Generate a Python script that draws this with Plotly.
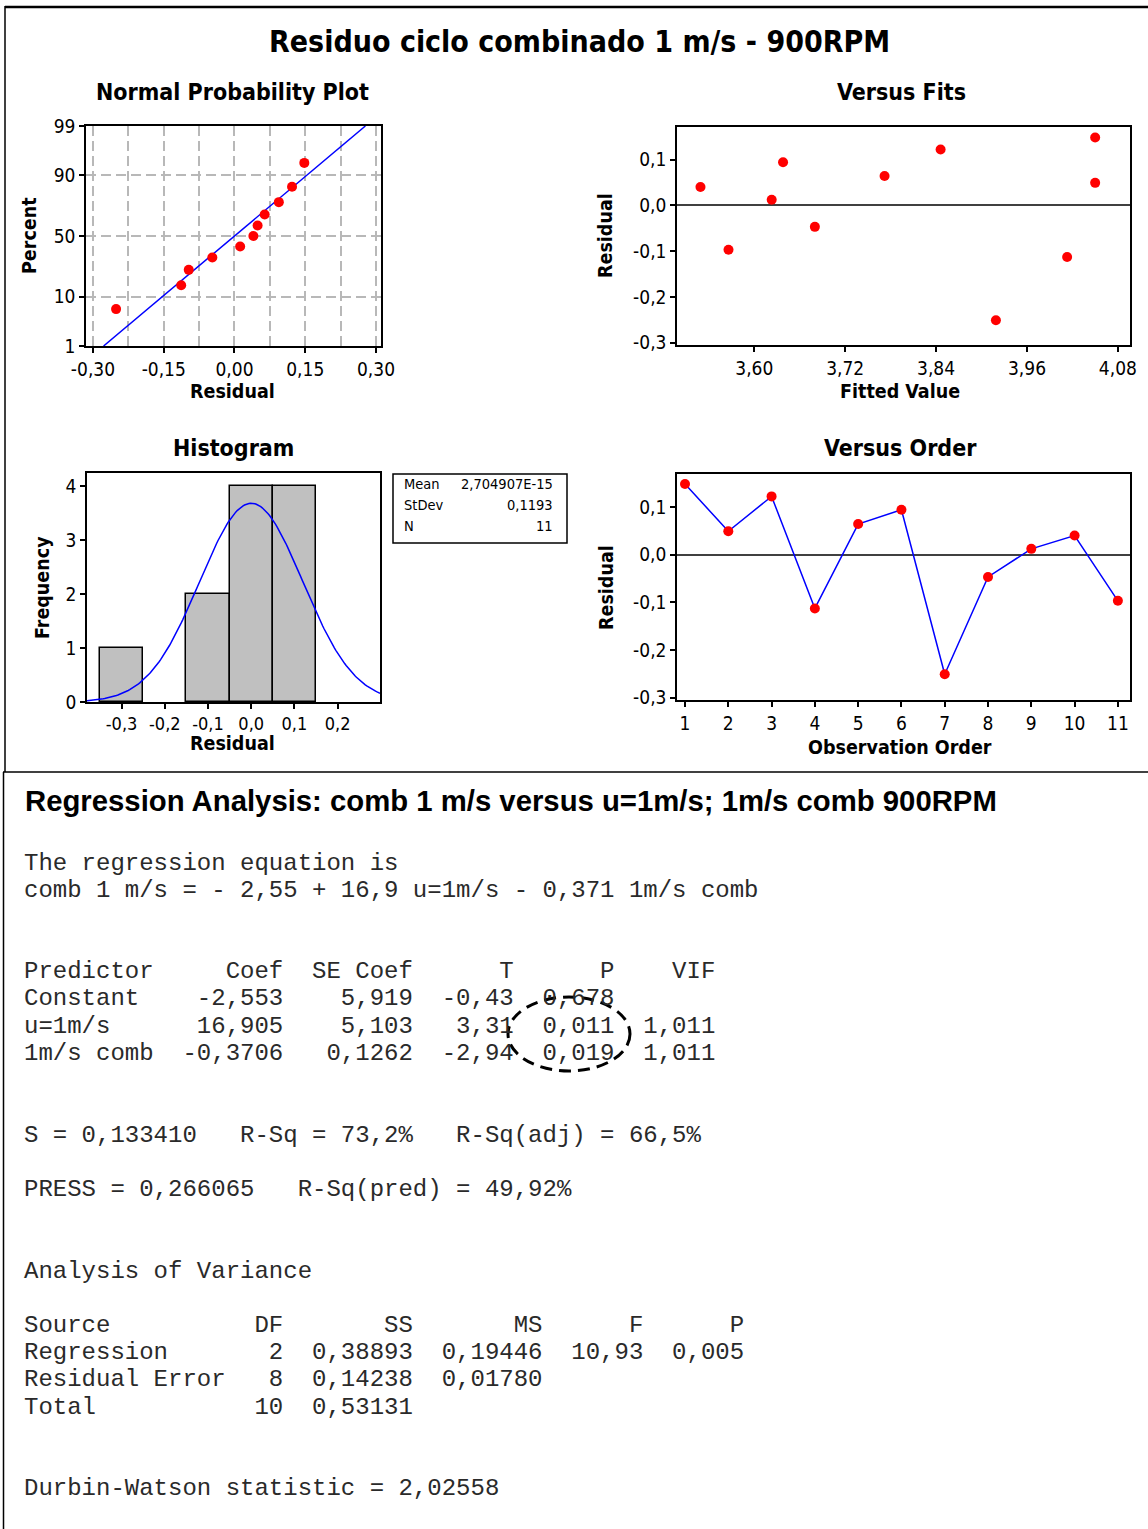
import numpy as np
import plotly.graph_objects as go
from statistics import NormalDist

W, H = 1148, 1529

# ---------------- data ----------------
observation = list(range(1, 12))
residuals = [0.148, 0.049, 0.122, -0.113, 0.064, 0.094, -0.251, -0.047, 0.012, 0.040, -0.097]
fitted = [4.050, 4.050, 3.846, 4.013, 3.772, 3.638, 3.919, 3.680, 3.623, 3.529, 3.566]
npp_percent = [6.1, 14.9, 23.7, 32.5, 41.2, 50.0, 58.8, 67.5, 76.3, 85.1, 93.9]
prob_ticks = [1, 10, 50, 90, 99]
prob_grid = [10, 50, 90]
npp_xticks = [-0.30, -0.15, 0.00, 0.15, 0.30]
npp_xtext = ["-0,30", "-0,15", "0,00", "0,15", "0,30"]
npp_xminor = [-0.225, -0.075, 0.075, 0.225]
fit_xticks = [3.60, 3.72, 3.84, 3.96, 4.08]
fit_xtext = ["3,60", "3,72", "3,84", "3,96", "4,08"]
res_yticks = [-0.3, -0.2, -0.1, 0.0, 0.1]
res_ytext = ["-0,3", "-0,2", "-0,1", "0,0", "0,1"]
hist_xticks = [-0.3, -0.2, -0.1, 0.0, 0.1, 0.2]
hist_xtext = ["-0,3", "-0,2", "-0,1", "0,0", "0,1", "0,2"]
hist_yticks = [0, 1, 2, 3, 4]
stat_mean = 2.704907e-15
stat_stdev = 0.1193
stat_n = 11

text_lines = [
    "The regression equation is",
    "comb 1 m/s = - 2,55 + 16,9 u=1m/s - 0,371 1m/s comb",
    "",
    "",
    "Predictor     Coef  SE Coef      T      P    VIF",
    "Constant    -2,553    5,919  -0,43  0,678",
    "u=1m/s      16,905    5,103   3,31  0,011  1,011",
    "1m/s comb  -0,3706   0,1262  -2,94  0,019  1,011",
    "",
    "",
    "S = 0,133410   R-Sq = 73,2%   R-Sq(adj) = 66,5%",
    "",
    "PRESS = 0,266065   R-Sq(pred) = 49,92%",
    "",
    "",
    "Analysis of Variance",
    "",
    "Source          DF       SS       MS      F      P",
    "Regression       2  0,38893  0,19446  10,93  0,005",
    "Residual Error   8  0,14238  0,01780",
    "Total           10  0,53131",
    "",
    "",
    "Durbin-Watson statistic = 2,02558",
]

# ---------------- helpers ----------------
def px(x):
    return x / W


def py(y):
    return 1 - y / H


F = "DejaVu Sans Condensed, DejaVu Sans, sans-serif"
MONO = "Liberation Mono, Courier New, monospace"
nd = NormalDist()

def z(p):
    return nd.inv_cdf(p / 100.0)

fig = go.Figure()

MK = dict(color="#ff0000", size=10, line=dict(width=0))

# Normal probability plot
npp_x = sorted(residuals)
npp_y = [z(p) for p in npp_percent]
zl, zh = z(1), z(99)
fig.add_trace(go.Scatter(x=[stat_mean + stat_stdev * zl, stat_mean + stat_stdev * zh], y=[zl, zh],
                         mode="lines", line=dict(color="#0000ff", width=1.5),
                         xaxis="x", yaxis="y", hoverinfo="skip"))
fig.add_trace(go.Scatter(x=npp_x, y=npp_y, mode="markers", marker=MK, xaxis="x", yaxis="y"))

# Versus fits
fig.add_trace(go.Scatter(x=fitted, y=residuals, mode="markers", marker=MK, xaxis="x2", yaxis="y2"))

# Histogram
fig.add_trace(go.Histogram(x=residuals, xbins=dict(start=-0.35, end=0.25, size=0.1),
                           marker=dict(color="#c0c0c0", line=dict(color="black", width=1.5)),
                           xaxis="x3", yaxis="y3"))
cx = np.linspace(-0.38, 0.298, 200)
cy = [stat_n * 0.1 * NormalDist(stat_mean, stat_stdev).pdf(v) for v in cx]
fig.add_trace(go.Scatter(x=cx, y=cy, mode="lines", line=dict(color="#0000ff", width=1.5),
                         xaxis="x3", yaxis="y3", hoverinfo="skip"))

# Versus order
fig.add_trace(go.Scatter(x=observation, y=residuals, mode="lines+markers",
                         line=dict(color="#0000ff", width=1.5), marker=MK,
                         xaxis="x4", yaxis="y4"))

base = dict(showline=True, linecolor="black", linewidth=1.5, mirror=True,
            ticks="outside", ticklen=5, tickwidth=1.5, tickcolor="black",
            zeroline=False, showgrid=False, fixedrange=True, automargin=False,
            tickfont=dict(family=F, size=19, color="black"))

GD = "10px,5px"
GC = "#b8b8b8"
grid = dict(showgrid=True, gridcolor=GC, gridwidth=1.5, griddash=GD)

R1 = 1130  # right edge of right-column plots

fig.update_layout(
    template="none",
    width=W, height=H, autosize=False,
    margin=dict(l=0, r=0, t=0, b=0, pad=0, autoexpand=False),
    paper_bgcolor="white", plot_bgcolor="white", showlegend=False, bargap=0,
    xaxis=dict(base, domain=[px(86), px(381)], range=[-0.3148, 0.3106],
               tickmode="array", tickvals=npp_xticks, ticktext=npp_xtext, **grid,
               minor=dict(tickvals=npp_xminor, showgrid=True, gridcolor=GC,
                          gridwidth=1.5, griddash=GD, ticks=""),
               anchor="y"),
    yaxis=dict(base, domain=[py(346), py(126)], range=[zl, zh],
               tickmode="array", tickvals=[z(p) for p in prob_ticks],
               ticktext=[str(p) for p in prob_ticks], anchor="x",
               minor=dict(tickvals=[z(p) for p in prob_grid], showgrid=True, gridcolor=GC,
                          gridwidth=1.5, griddash=GD, ticks="")),
    xaxis2=dict(base, domain=[px(677), px(R1)], range=[3.498, 4.096],
                tickmode="array", tickvals=fit_xticks, ticktext=fit_xtext, anchor="y2"),
    yaxis2=dict(base, domain=[py(345), py(127)], range=[-0.305, 0.171],
                tickmode="array", tickvals=res_yticks, ticktext=res_ytext, anchor="x2",
                zeroline=True, zerolinecolor="#404040", zerolinewidth=1.5),
    xaxis3=dict(base, domain=[px(87), px(380)], range=[-0.38, 0.298],
                tickmode="array", tickvals=hist_xticks, ticktext=hist_xtext, anchor="y3"),
    yaxis3=dict(base, domain=[py(702), py(473)], range=[0, 4.24],
                tickmode="array", tickvals=hist_yticks, anchor="x3"),
    xaxis4=dict(base, domain=[px(677), px(R1)], range=[0.815, 11.28],
                tickmode="array", tickvals=observation, anchor="y4"),
    yaxis4=dict(base, domain=[py(700), py(474)], range=[-0.305, 0.169],
                tickmode="array", tickvals=res_yticks, ticktext=res_ytext, anchor="x4",
                zeroline=True, zerolinecolor="#404040", zerolinewidth=1.5),
)
fig.update_layout(xaxis3=dict(tickfont=dict(size=18)))

ann = []

def label(text, x, y, size, bold=True, angle=0, family=F, anchor="center", color="black"):
    ann.append(dict(text=text, x=px(x), y=py(y), xref="paper", yref="paper",
                    xanchor=anchor, yanchor="middle", showarrow=False, textangle=angle,
                    font=dict(family=family, size=size, color=color,
                              weight="bold" if bold else "normal")))

label("Residuo ciclo combinado 1 m/s - 900RPM", 579, 42, 30)
label("Normal Probability Plot", 232, 92, 23)
label("Versus Fits", 901, 92, 23)
label("Histogram", 233, 448, 23)
label("Versus Order", 900, 448, 23)
label("Residual", 232, 391, 19.5)
label("Percent", 30, 236, 19.5, angle=-90)
label("Residual", 606, 236, 19.5, angle=-90)
label("Fitted Value", 900, 391, 19.5)
label("Frequency", 42, 588, 19.5, angle=-90)
label("Residual", 232, 743, 19.5)
label("Residual", 606, 588, 19.5, angle=-90)
label("Observation Order", 900, 747, 19.5)

# stats box
stats = [("Mean", f"{stat_mean:.6E}".replace(".", ",")),
         ("StDev", f"{stat_stdev:.4f}".replace(".", ",")),
         ("N", str(stat_n))]
for i, (k, v) in enumerate(stats):
    yy = 484 + i * 21
    label(k, 402, yy, 14.5, bold=False, anchor="left")
    label(v, 555, yy, 14.5, bold=False, anchor="right")

# regression output
label("Regression Analysis: comb 1 m/s versus u=1m/s; 1m/s comb 900RPM", 23, 800, 29.3,
      family="Liberation Sans, Arial, sans-serif", anchor="left")
y0 = 863
for i, line in enumerate(text_lines):
    if line:
        label(line.replace(" ", "\u00a0"), 22, y0 + i * 27.2, 24, bold=False,
              family=MONO, anchor="left", color="#2a2a2a")

fig.update_layout(annotations=ann)

shapes = [
    dict(type="rect", xref="paper", yref="paper", x0=px(393), x1=px(567), y0=py(543), y1=py(474),
         line=dict(color="black", width=1.5)),
    dict(type="circle", xref="paper", yref="paper", x0=px(508), x1=px(630), y0=py(1071), y1=py(997),
         line=dict(color="black", width=3, dash="12px,7px")),
    dict(type="line", xref="paper", yref="paper", x0=px(5), x1=px(1148), y0=py(7), y1=py(7),
         line=dict(color="black", width=2.5)),
    dict(type="line", xref="paper", yref="paper", x0=px(5), x1=px(5), y0=py(6), y1=py(772),
         line=dict(color="black", width=1.5)),
    dict(type="line", xref="paper", yref="paper", x0=px(3), x1=px(1148), y0=py(772), y1=py(772),
         line=dict(color="black", width=1.5)),
    dict(type="line", xref="paper", yref="paper", x0=px(3.5), x1=px(3.5), y0=py(772), y1=py(1529),
         line=dict(color="black", width=1.5)),
]
fig.update_layout(shapes=shapes)

fig.write_html("out.html")
